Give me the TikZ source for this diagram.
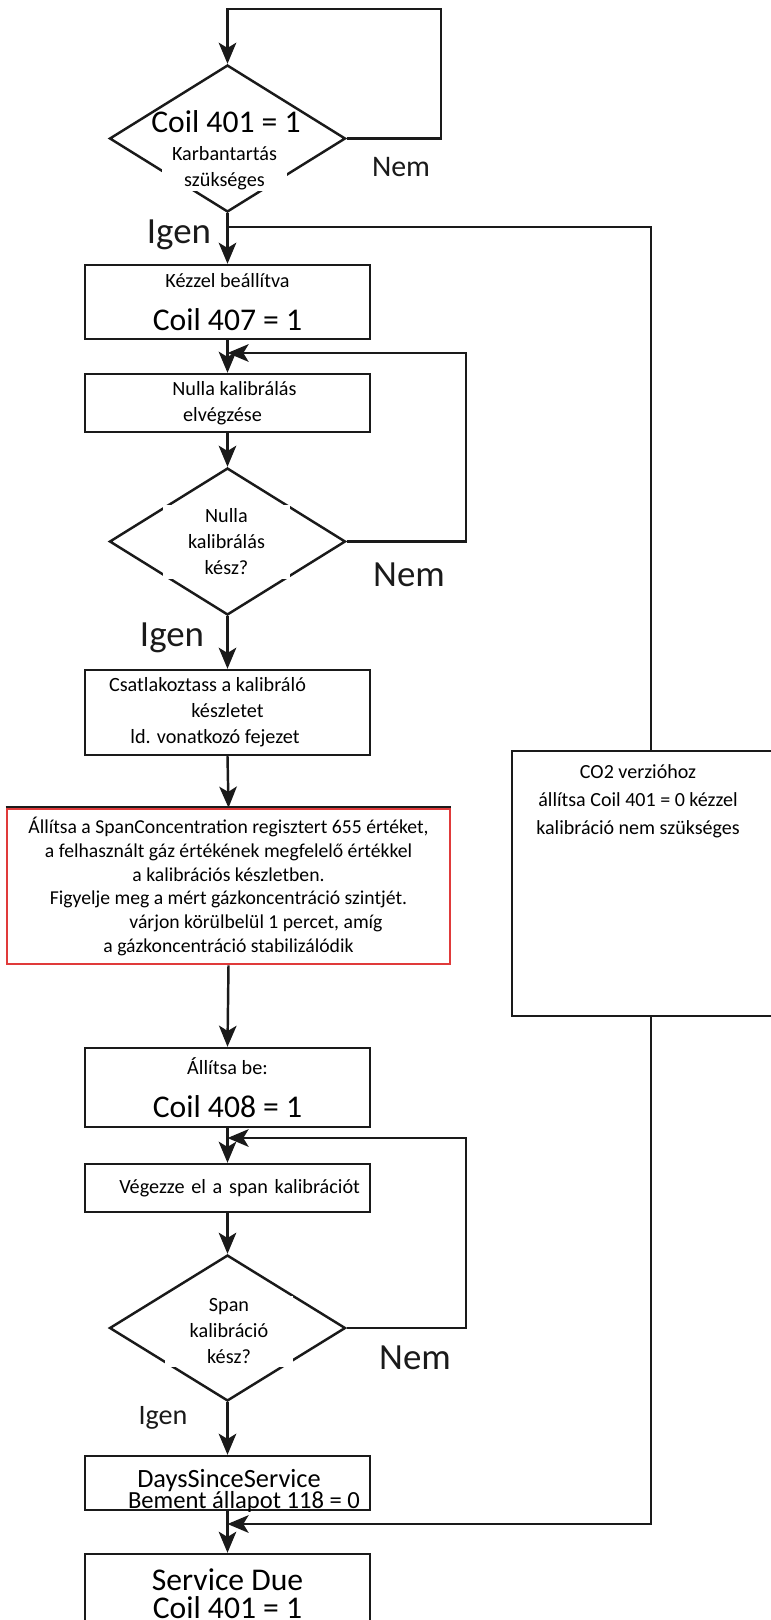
\documentclass[tikz,border=0pt]{standalone}
\usepackage{fontspec}
\setmainfont{Carlito}
\usetikzlibrary{arrows.meta,shapes.geometric}
\definecolor{FlowInk}{HTML}{1A1A1A}
\definecolor{FlowRed}{HTML}{E03A3A}
\newcommand{\smalltxt}{\fontsize{11.5}{14.8}\selectfont}
\newcommand{\bigtxt}{\fontsize{18}{22}\selectfont}

\begin{document}
\begin{tikzpicture}[
    x=0.02cm, y=-0.02cm,
    font=\smalltxt,
    stepbox/.style={
        draw=FlowInk,
        line width=1.4pt,
        fill=white,
        minimum width=5.7cm,
        align=center,
        inner sep=2pt
    },
    decision/.style={diamond, draw=FlowInk, line width=1.4pt,
                     minimum width=4.72cm, minimum height=2.94cm,
                     inner sep=0pt},
    cover/.style={fill=white, inner sep=0pt, align=center},
    flow/.style={-{Stealth[length=12pt,width=10pt,inset=3pt]},
                 draw=FlowInk, line width=1.4pt},
    plain/.style={draw=FlowInk, line width=1.4pt},
    answer/.style={font=\fontsize{21}{24}\selectfont, text=FlowInk}
]
    \useasboundingbox (0,0) rectangle (771,1620);

    % main column
    \node[decision] (check) at (227.5,138.5) {};
    \node[font=\bigtxt] (checkcoil) at (226,122) {Coil 401 = 1};
    \node[cover, minimum width=2.5cm, minimum height=0.92cm] (checktext)
        at (224.5,168) {Karbantartás\\szükséges};

    \node[stepbox, minimum height=1.48cm] (manual) at (227.5,302)
        {Kézzel beállítva\\[10pt]{\bigtxt Coil 407 = 1}};
    \node[stepbox, minimum height=1.16cm] (zerocal) at (227.5,403)
        {\hspace*{0.28cm}Nulla kalibrálás\\elvégzése\hspace*{0.2cm}};

    \node[decision] (zerodone) at (227.5,541.5) {};
    \node[cover, minimum width=2.54cm, minimum height=1.48cm] (zerotext)
        at (226.5,542) {Nulla\\kalibrálás\\kész?};

    \node[stepbox, minimum height=1.7cm] (connect) at (227.5,712.5)
        {Csatlakoztass a kalibráló\hspace*{0.8cm}\\
         készletet\hspace*{1.2cm}\\
         ld. vonatkozó fejezet\hspace*{0.5cm}};

    \node[stepbox, draw=FlowRed, line width=1.5pt, minimum width=8.86cm,
          minimum height=3.1cm, font=\fontsize{11.2}{13.6}\selectfont]
        (span) at (228.5,886.5)
        {Állítsa a SpanConcentration regisztert 655 értéket,\\
         a felhasznált gáz értékének megfelelő értékkel\\
         a kalibrációs készletben.\\
         Figyelje meg a mért gázkoncentráció szintjét.\hspace*{0.8cm}\\
         \hspace*{1.1cm}várjon körülbelül 1 percet, amíg\\
         a gázkoncentráció stabilizálódik};
    \draw[FlowInk, line width=1pt] ([yshift=0.6pt]span.north west)
        -- ([yshift=0.6pt]span.north east);

    \node[stepbox, minimum height=1.58cm] (setcoil) at (227.5,1087.5)
        {Állítsa be:\\[9.5pt]{\bigtxt Coil 408 = 1}};
    \node[stepbox, minimum height=0.96cm, text width=5.3cm, align=right]
        (spancal) at (227.5,1188) {Végezze el a span kalibrációt};

    \node[decision, minimum height=2.92cm] (spandone) at (227.5,1328) {};
    \node[cover, minimum width=2.56cm, minimum height=1.42cm] (spantext)
        at (229,1331) {Span\\kalibráció\\kész?};

    \node[stepbox, minimum height=1.08cm] (reset) at (227.5,1483) {};
    \node[align=center, font=\fontsize{15}{14.4}\selectfont] (resettext)
        at (229,1491)
        {DaysSinceService\\[-2pt]\hspace*{0.6cm}{\fontsize{14}{14.4}\selectfont
         Bement állapot 118 = 0}};
    \node[stepbox, minimum height=1.6cm, font=\fontsize{18}{16}\selectfont]
        (due) at (227.5,1594) {Service Due\\Coil 401 = 1};

    % CO2 branch
    \node[stepbox, minimum width=5.56cm, minimum height=5.3cm] (co2)
        at (651,883.5) {};
    \node[font=\fontsize{11.4}{16}\selectfont, align=center] (co2text)
        at (638,801)
        {CO2 verzióhoz\\állítsa Coil 401 = 0 kézzel\\kalibráció nem szükséges};

    % answers
    \node[answer, font=\fontsize{17}{20}\selectfont] (no1) at (401,167) {Nem};
    \node[answer] (yes1) at (179,235) {Igen};
    \node[answer] (no2) at (409,575) {Nem};
    \node[answer] (yes2) at (172,638) {Igen};
    \node[answer] (no3) at (415,1358) {Nem};
    \node[answer, font=\fontsize{16}{19}\selectfont] (yes3) at (163,1418) {Igen};

    % connectors
    \coordinate (loop1) at (441,9);
    \draw[flow] (check.east) -| (loop1) -| (check.north);
    \draw[flow] (check.south) -- (manual.north);

    \coordinate (split) at (227.5,227);
    \draw[plain] (split) -| (co2.north);
    \coordinate (merge) at (227.5,1524);
    \draw[flow] (co2.south) |- (merge);

    \draw[flow] (manual.south) -- (zerocal.north);
    \draw[flow] (zerocal.south) -- (zerodone.north);
    \coordinate (loop2) at (466,353);
    \coordinate (join2) at (227.5,353);
    \draw[flow] (zerodone.east) -| (loop2) -- (join2);
    \draw[flow] (zerodone.south) -- (connect.north);
    \draw[flow] (connect.south) -- (span.north);
    \draw[flow] (span.south) -- (setcoil.north);
    \draw[flow] (setcoil.south) -- (spancal.north);
    \draw[flow] (spancal.south) -- (spandone.north);
    \coordinate (loop3) at (466,1138);
    \coordinate (join3) at (227.5,1138);
    \draw[flow] (spandone.east) -| (loop3) -- (join3);
    \draw[flow] (spandone.south) -- (reset.north);
    \draw[flow] (reset.south) -- (due.north);
\end{tikzpicture}
\end{document}
